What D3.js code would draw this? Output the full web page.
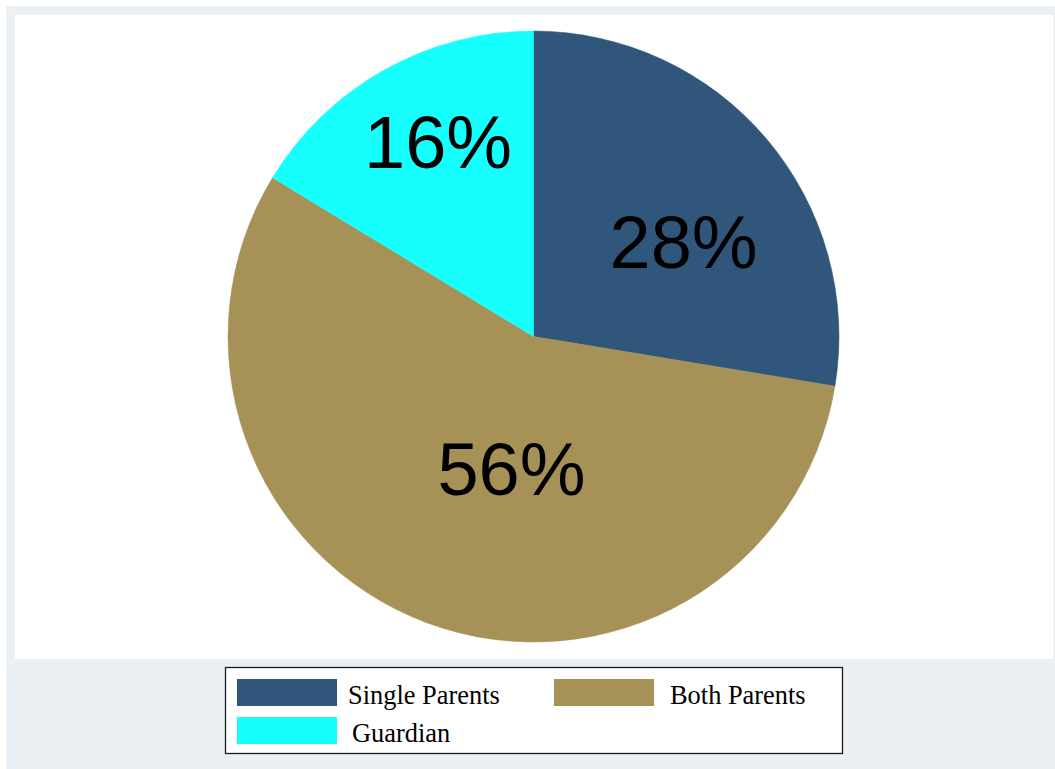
<!DOCTYPE html>
<html>
<head>
<meta charset="utf-8">
<script src="https://cdn.jsdelivr.net/npm/d3@7"></script>
<style>
  html, body { margin: 0; padding: 0; background: #ffffff; }
  svg { display: block; }
</style>
</head>
<body>
<div id="chart"></div>
<script>
// values (percent of respondents)
const categories = ["Single Parents", "Both Parents", "Guardian"];
const shares = [27.6, 56.1, 16.3];
const sliceLabels = ["28%", "56%", "16%"];
const colors = ["#30577b", "#a69157", "#15ffff"];

// where Stata drops each slice label: [degrees clockwise from 12 o'clock, distance from centre]
const labelPolar = [[57.7, 177.6], [189.5, 133.8], [333.9, 217]];

const width = 1055;
const height = 769;

const svg = d3.select("#chart").append("svg")
  .attr("width", width)
  .attr("height", height);

// outer graph region + white plot region
svg.append("rect")
  .attr("x", 6).attr("y", 6)
  .attr("width", width - 6).attr("height", height - 6)
  .attr("fill", "#eaf0f3");
svg.append("rect")
  .attr("x", 15).attr("y", 15)
  .attr("width", 1053 - 15).attr("height", 659 - 15)
  .attr("fill", "#ffffff");

const cx = 533.5;
const cy = 336.5;
const radius = 305.5;

const pie = d3.pie()
  .sort(null)
  .value((d) => d.value)
  .startAngle(0)
  .endAngle(2 * Math.PI);

const data = categories.map((c, i) => ({name: c, value: shares[i], label: sliceLabels[i], color: colors[i]}));

const arc = d3.arc()
  .innerRadius(0)
  .outerRadius(radius);

const pieG = svg.append("g")
  .attr("transform", `translate(${cx}, ${cy})`);

pieG.selectAll("path.slice")
  .data(pie(data))
  .enter()
  .append("path")
  .attr("class", "slice")
  .attr("d", arc)
  .attr("fill", (d) => d.data.color)
  .attr("stroke", (d) => d.data.color)
  .attr("stroke-width", 0.5);

const labelSize = 74;
pieG.selectAll("text.plabel")
  .data(pie(data))
  .enter()
  .append("text")
  .attr("class", "plabel")
  .attr("x", (d, i) => labelPolar[i][1] * Math.sin(labelPolar[i][0] * Math.PI / 180))
  .attr("y", (d, i) => -labelPolar[i][1] * Math.cos(labelPolar[i][0] * Math.PI / 180) + labelSize * 0.358)
  .attr("text-anchor", "middle")
  .attr("font-family", "'Liberation Sans', Arial, sans-serif")
  .attr("font-size", labelSize)
  .attr("fill", "#000000")
  .text((d) => d.data.label);

// legend
const legend = svg.append("g").attr("class", "legend");
legend.append("rect")
  .attr("x", 225.5).attr("y", 667.5)
  .attr("width", 617).attr("height", 86)
  .attr("fill", "#ffffff")
  .attr("stroke", "#1a1a1a")
  .attr("stroke-width", 1.3);

const colX = [237, 554];
const textX = [348, 670];
const rowY = [679, 717];

const items = legend.selectAll("g.item")
  .data(data)
  .enter()
  .append("g")
  .attr("class", "item");

items.append("rect")
  .attr("x", (d, i) => colX[i % 2])
  .attr("y", (d, i) => rowY[Math.floor(i / 2)])
  .attr("width", 100)
  .attr("height", 27)
  .attr("fill", (d) => d.color);

items.append("text")
  .attr("x", (d, i) => textX[i % 2] + (i === 2 ? 4 : 0))
  .attr("y", (d, i) => rowY[Math.floor(i / 2)] + 24.5)
  .attr("font-family", "'Liberation Serif', 'Times New Roman', serif")
  .attr("font-size", 26.4)
  .attr("fill", "#000000")
  .text((d) => d.name);
</script>
</body>
</html>
